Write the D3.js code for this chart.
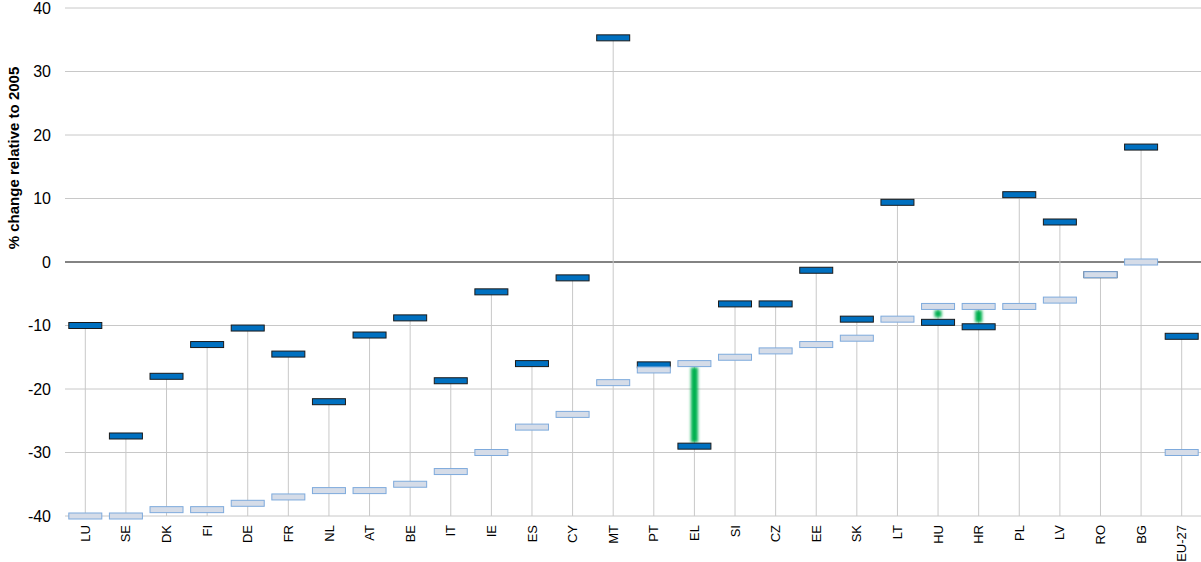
<!DOCTYPE html>
<html>
<head>
<meta charset="utf-8">
<script src="https://cdn.jsdelivr.net/npm/d3@7/dist/d3.min.js"></script>
<style>
  body { margin: 0; background: #fff; }
  text { font-family: Arial, "Liberation Sans", sans-serif; }
</style>
</head>
<body>
<script>
// categories (member states) and the two series, % change relative to 2005
var countries = ["LU","SE","DK","FI","DE","FR","NL","AT","BE","IT","IE","ES","CY","MT","PT","EL","SI","CZ","EE","SK","LT","HU","HR","PL","LV","RO","BG","EU-27"];
var targets = [-10,-27.4,-18,-13,-10.4,-14.5,-22,-11.5,-8.8,-18.7,-4.7,-16,-2.5,35.3,-16.2,-29,-6.6,-6.6,-1.3,-9,9.4,-9.5,-10.2,10.6,6.3,-2,18.1,-11.7];
var projected = [-40,-40,-39,-39,-38,-37,-36,-36,-35,-33,-30,-26,-24,-19,-17,-16,-15,-14,-13,-12,-9,-7,-7,-7,-6,-2,0,-30];
// gaps (shortfall) highlighted in green
var gapCountries = ["EL","HU","HR"];
var gapFrom = [-16.6,-7.6,-7.6];
var gapTo = [-28.4,-8.7,-9.5];
var yTicks = [-40,-30,-20,-10,0,10,20,30,40];

var w = 1201, h = 562;

var svg = d3.select("body").append("svg")
    .attr("width", w)
    .attr("height", h);

var defs = svg.append("defs");
defs.append("filter").attr("id", "blur")
    .attr("x", "-100%").attr("y", "-20%").attr("width", "300%").attr("height", "140%")
  .append("feGaussianBlur").attr("stdDeviation", 1.4);

var x = d3.scaleBand()
    .domain(countries)
    .range([65, 1202]);

var y = d3.scaleLinear()
    .domain([-40, 40])
    .range([516, 8]);

// horizontal gridlines
svg.append("g").selectAll("line")
    .data(yTicks)
    .enter().append("line")
    .attr("x1", 65).attr("x2", 1201)
    .attr("y1", function(d) { return y(d); })
    .attr("y2", function(d) { return y(d); })
    .attr("stroke", function(d) { return d == 0 ? "#5a5a5a" : "#c8c8c8"; })
    .attr("stroke-width", function(d) { return d == 0 ? 1.5 : 1; });

// y tick labels
svg.append("g").selectAll("text")
    .data(yTicks)
    .enter().append("text")
    .attr("x", 51)
    .attr("y", function(d) { return y(d); })
    .attr("dy", "0.36em")
    .attr("text-anchor", "end")
    .attr("font-size", 16)
    .attr("fill", "#000")
    .text(function(d) { return d; });

// y axis title
svg.append("text")
    .attr("transform", "translate(19,158) rotate(-90)")
    .attr("text-anchor", "middle")
    .attr("font-size", 15)
    .attr("font-weight", "bold")
    .attr("fill", "#000")
    .text("% change relative to 2005");

// vertical drop lines from the higher marker down to the axis
svg.append("g").selectAll("line")
    .data(countries)
    .enter().append("line")
    .attr("x1", function(d) { return x(d) + x.bandwidth() / 2; })
    .attr("x2", function(d) { return x(d) + x.bandwidth() / 2; })
    .attr("y1", function(d, i) { return y(Math.max(targets[i], projected[i])); })
    .attr("y2", y(-40))
    .attr("stroke", "#c8c8c8")
    .attr("stroke-width", 1);

// green gap bars
svg.append("g").selectAll("rect")
    .data(gapCountries)
    .enter().append("rect")
    .attr("x", function(d) { return x(d) + x.bandwidth() / 2 - 3.5; })
    .attr("width", 7)
    .attr("y", function(d, i) { return y(gapFrom[i]); })
    .attr("height", function(d, i) { return y(gapTo[i]) - y(gapFrom[i]); })
    .attr("fill", "#00b050")
    .attr("filter", "url(#blur)");

var mw = 33, mh = 6;

// dark markers
svg.append("g").selectAll("rect")
    .data(countries)
    .enter().append("rect")
    .attr("x", function(d) { return x(d) + x.bandwidth() / 2 - mw / 2; })
    .attr("y", function(d, i) { return y(targets[i]) - mh / 2; })
    .attr("width", mw)
    .attr("height", mh)
    .attr("fill", "#0070c0")
    .attr("stroke", "#1a1a1a")
    .attr("stroke-width", 1);

// light markers
svg.append("g").selectAll("rect")
    .data(countries)
    .enter().append("rect")
    .attr("x", function(d) { return x(d) + x.bandwidth() / 2 - mw / 2; })
    .attr("y", function(d, i) { return y(projected[i]) - mh / 2; })
    .attr("width", mw)
    .attr("height", mh)
    .attr("fill", "#d5dce8")
    .attr("stroke", "#7eaadc")
    .attr("stroke-width", 1);

// x labels, rotated
svg.append("g").selectAll("text")
    .data(countries)
    .enter().append("text")
    .attr("transform", function(d) { return "translate(" + (x(d) + x.bandwidth() / 2) + ",525) rotate(-90)"; })
    .attr("dy", "0.35em")
    .attr("text-anchor", "end")
    .attr("font-size", 13)
    .attr("fill", "#000")
    .text(function(d) { return d; });
</script>
</body>
</html>
